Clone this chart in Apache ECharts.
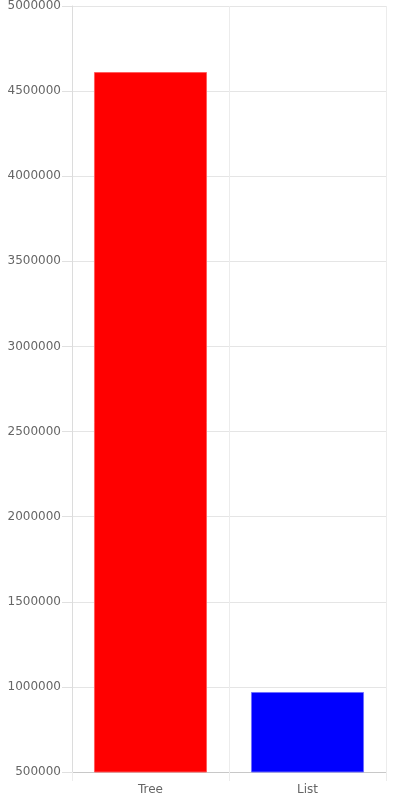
<!DOCTYPE html>
<html><head><meta charset="utf-8">
<script src="https://cdn.jsdelivr.net/npm/echarts@6/dist/echarts.min.js"></script>
<style>html,body{margin:0;padding:0;background:#fff}#c{width:400px;height:800px}</style>
</head><body><div id="c"></div>
<script>
const categories = ['Tree', 'List'];
const values = [4612000, 970000];
const barColors = ['#ff0000', '#0000ff'];
const borderColors = ['rgba(255,90,90,0.9)', 'rgba(110,110,255,0.9)'];

const chart = echarts.init(document.getElementById('c'), null, {renderer: 'canvas'});
chart.setOption({
  animation: false,
  textStyle: {fontFamily: 'DejaVu Sans'},
  grid: {left: 72, right: 14, top: 6, bottom: 28, containLabel: false, outerBoundsMode: 'none'},
  xAxis: {
    type: 'category',
    data: categories,
    boundaryGap: true,
    axisLine: {show: true, lineStyle: {color: '#c8c8c8', width: 1}},
    axisTick: {show: true, length: 9, lineStyle: {color: '#ececec'}},
    splitLine: {show: true, lineStyle: {color: '#ececec'}},
    axisLabel: {color: '#666', fontSize: 12, margin: 12, fontFamily: 'DejaVu Sans'}
  },
  yAxis: {
    type: 'value',
    min: 500000, max: 5000000, interval: 500000,
    axisLine: {show: true, lineStyle: {color: '#dcdcdc'}},
    axisTick: {show: true, length: 10, lineStyle: {color: '#e0e0e0'}},
    splitLine: {show: true, lineStyle: {color: '#e5e5e5'}},
    axisLabel: {color: '#666', fontSize: 12, margin: 11, fontFamily: 'DejaVu Sans',
      formatter: v => String(v)}
  },
  series: [{
    type: 'bar',
    barWidth: '72%',
    data: values.map((v, i) => ({
      value: v,
      itemStyle: {color: barColors[i], borderColor: borderColors[i], borderWidth: 1}
    }))
  }]
});
</script></body></html>
